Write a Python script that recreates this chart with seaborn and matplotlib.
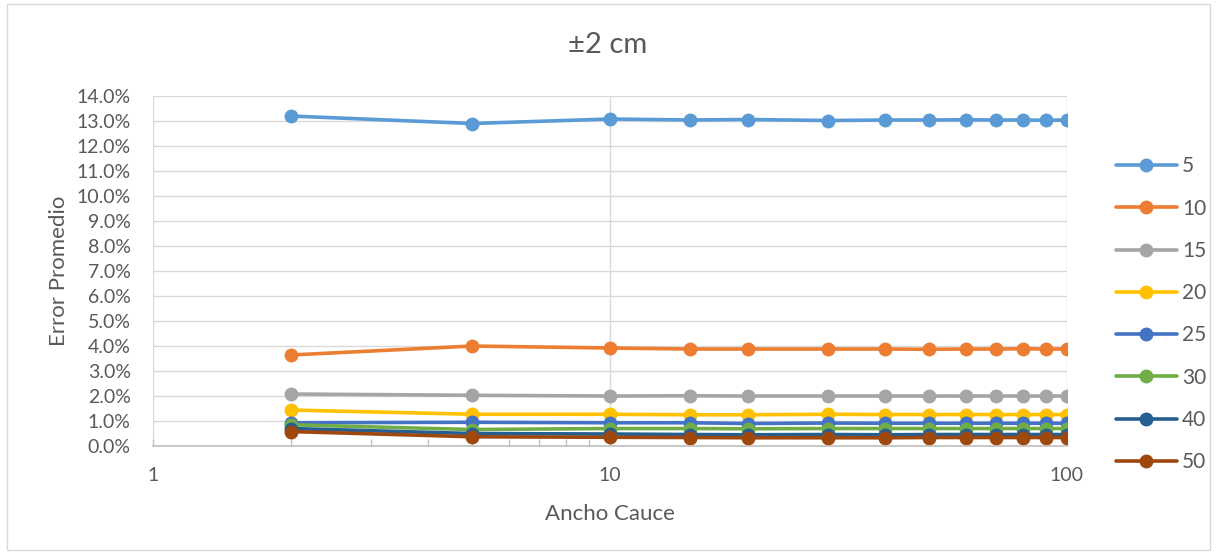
import numpy as np
import pandas as pd
import matplotlib
matplotlib.use("Agg")
import matplotlib.pyplot as plt
from matplotlib.patches import Rectangle
from matplotlib.ticker import FuncFormatter, LogLocator, FixedLocator
import seaborn as sns

ancho = [2, 5, 10, 15, 20, 30, 40, 50, 60, 70, 80, 90, 100]
series_names = ["5", "10", "15", "20", "25", "30", "40", "50"]

err_5 = [13.20, 12.90, 13.08, 13.04, 13.06, 13.02, 13.04, 13.04, 13.05, 13.04, 13.04, 13.03, 13.04]
err_10 = [3.64, 4.00, 3.92, 3.88, 3.88, 3.88, 3.88, 3.87, 3.88, 3.88, 3.89, 3.88, 3.88]
err_15 = [2.08, 2.03, 2.00, 2.01, 2.00, 2.00, 2.00, 2.00, 2.00, 2.00, 2.00, 2.00, 2.00]
err_20 = [1.44, 1.27, 1.27, 1.25, 1.25, 1.27, 1.26, 1.26, 1.26, 1.26, 1.26, 1.26, 1.26]
err_25 = [0.93, 0.95, 0.93, 0.93, 0.90, 0.92, 0.91, 0.91, 0.91, 0.91, 0.91, 0.91, 0.91]
err_30 = [0.85, 0.66, 0.70, 0.70, 0.69, 0.70, 0.70, 0.70, 0.70, 0.70, 0.70, 0.70, 0.70]
err_40 = [0.70, 0.50, 0.48, 0.46, 0.45, 0.46, 0.45, 0.46, 0.46, 0.46, 0.46, 0.46, 0.46]
err_50 = [0.58, 0.37, 0.35, 0.34, 0.33, 0.33, 0.33, 0.34, 0.34, 0.34, 0.34, 0.34, 0.34]

colors = ["#5B9BD5", "#ED7D31", "#A5A5A5", "#FFC000",
          "#4472C4", "#70AD47", "#255E91", "#9E480E"]

all_series = [err_5, err_10, err_15, err_20, err_25, err_30, err_40, err_50]
frames = []
for name, vals in zip(series_names, all_series):
    frames.append(pd.DataFrame({"Ancho": ancho, "Error": vals, "Serie": name}))
df = pd.concat(frames, ignore_index=True)

sns.set_theme(style="white")
plt.rcParams["font.family"] = ["Lato", "DejaVu Sans"]

fig = plt.figure(figsize=(12.17, 5.54), dpi=100)
ax = fig.add_axes([0.1257, 0.1949, 0.7510, 0.6318])

sns.lineplot(data=df, x="Ancho", y="Error", hue="Serie", hue_order=series_names,
             palette=colors, marker="o", markersize=10, markeredgewidth=0,
             linewidth=2.6, ax=ax, legend=False)

ax.set_xscale("log")
ax.set_xlim(1, 100)
ax.set_ylim(0, 14)
ax.yaxis.set_major_locator(FixedLocator(np.arange(0, 14.01, 1)))
ax.yaxis.set_major_formatter(FuncFormatter(lambda v, p: f"{v:.1f}%"))
ax.xaxis.set_major_locator(FixedLocator([1, 10, 100]))
ax.xaxis.set_major_formatter(FuncFormatter(lambda v, p: f"{v:g}"))
ax.xaxis.set_minor_locator(LogLocator(base=10, subs=np.arange(2, 10)))
ax.xaxis.set_minor_formatter(FuncFormatter(lambda v, p: ""))

ax.grid(True, which="major", color="#D9D9D9", linewidth=1.0)
ax.set_axisbelow(True)
for s in ["top", "right", "left"]:
    ax.spines[s].set_visible(False)
ax.spines["bottom"].set_color("#BFBFBF")
ax.spines["bottom"].set_linewidth(1.2)

ax.tick_params(axis="x", which="minor", direction="in", length=5, width=1, color="#BFBFBF", bottom=True)
ax.tick_params(axis="x", which="major", direction="in", length=5, width=1, color="#BFBFBF",
               bottom=True, labelsize=14, labelcolor="#595959", pad=15)
ax.tick_params(axis="y", which="major", length=0, labelsize=14, labelcolor="#595959", pad=16)

ax.set_xlabel("Ancho Cauce", fontsize=16, color="#595959")
ax.set_ylabel("Error Promedio", fontsize=16, color="#595959")
ax.yaxis.set_label_coords(-0.092, 0.5)
ax.xaxis.set_label_coords(0.5, -0.167)
fig.text(0.4995, 0.918, "±2 cm", ha="center", va="center", fontsize=21, color="#595959")

handles = [plt.Line2D([0], [0], color=c, marker="o", markersize=10, markeredgewidth=0,
                      linewidth=2.6) for c in colors]
fig.legend(handles, series_names, loc="upper left", bbox_to_anchor=(0.9104, 0.733),
           frameon=False, fontsize=15, labelcolor="#595959", labelspacing=1.07,
           handlelength=2.9, handletextpad=0.25, borderaxespad=0)

fig.patches.append(Rectangle((0.006, 0.008), 0.988, 0.984, transform=fig.transFigure,
                             fill=False, edgecolor="#D9D9D9", linewidth=1.0))

fig.savefig("out.png", dpi=100, facecolor="white")
